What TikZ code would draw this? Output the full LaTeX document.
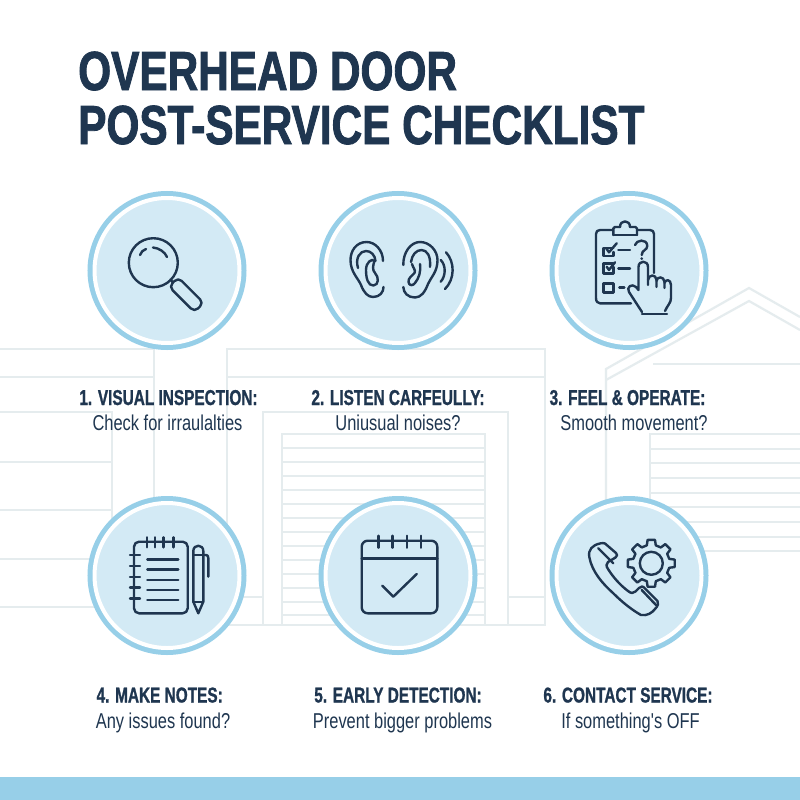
\documentclass[tikz,border=0pt]{standalone}
\usepackage{fontspec}
\setmainfont{Liberation Sans}
\newfontfamily\titlefont[FakeStretch=0.77,FakeBold=1.5]{Liberation Sans Bold}
\newfontfamily\headfont[FakeStretch=0.715,FakeBold=1]{Liberation Sans Bold}
\newfontfamily\subfont[FakeStretch=0.765]{Liberation Sans}
\usetikzlibrary{calc}
\definecolor{navy}{HTML}{1F3650}
\definecolor{ringblue}{HTML}{97CFE8}
\definecolor{innerblue}{HTML}{D3EAF5}
\definecolor{houseline}{HTML}{E5ECEE}
\tikzset{
    badge/.style={shape=circle, fill=innerblue, draw=white, line width=4pt, minimum size=145pt, inner sep=0pt, outer sep=0pt, preaction={draw=ringblue, line width=14pt}},
    iconline/.style={draw=navy, line width=2.4pt, line cap=round, line join=round},
    house/.style={draw=houseline, line width=2.2pt},
    titletxt/.style={anchor=base west, inner sep=0pt, text=navy, font=\titlefont\fontsize{55}{55}\selectfont},
    headtxt/.style={anchor=base, inner sep=0pt, text=navy, font=\headfont\fontsize{21.5}{21.5}\selectfont},
    subtxt/.style={anchor=base, inner sep=0pt, text=navy, font=\subfont\fontsize{21.5}{21.5}\selectfont}}

\begin{document}
\begin{tikzpicture}[x=1pt, y=-1pt]

    \useasboundingbox (0,0) rectangle (800,800);
    \fill[white] (0,0) rectangle (800,800);

    % left building
    \draw[house] (0,349) -- (154,349) -- (154,500);
    \draw[house] (0,377) -- (154,377);
    \draw[house] (0,412) -- (112,412) -- (112,530);
    \foreach \y in {462,510} {
        \draw[house] (0,\y) -- (112,\y);
    }
    \foreach \y in {559,607} {
        \draw[house] (0,\y) -- (120,\y);
    }

    % middle building
    \draw[house] (227,625) -- (227,349) -- (545,349) -- (545,625) -- cycle;
    \draw[house] (227,377) -- (545,377);
    \draw[house] (263,625) -- (263,412) -- (508,412) -- (508,625);
    \draw[house] (282,625) -- (282,434) -- (485,434) -- (485,625);
    \foreach \y in {448,462,476,490,504,518,532,546,560,574,588,602,615} {
        \draw[house] (282,\y) -- (485,\y);
    }
    \draw[house] (227,597) -- (263,597);
    \draw[house] (508,597) -- (545,597);

    % right building
    \draw[house] (606,530) -- (606,369) -- (749,288) -- (800,317);
    \draw[house] (606,380) -- (749,301) -- (800,330);
    \draw[house] (653,364) -- (800,364);
    \draw[house] (650,551) -- (650,434) -- (800,434);
    \foreach \y in {449,463,478,493,507,522,537,551} {
        \draw[house] (650,\y) -- (800,\y);
    }

    \fill[ringblue] (0,777) rectangle (800,800);

    \node[badge] (C1) at (167,270.5) {};
    \node[badge] (C2) at (398,270.5) {};
    \node[badge] (C3) at (629,270.5) {};
    \node[badge] (C4) at (167,575.5) {};
    \node[badge] (C5) at (398,575.5) {};
    \node[badge] (C6) at (629,575.5) {};

    % magnifier
    \draw[iconline] (153.3,262.7) circle (24.5);
    \draw[iconline] (140,255) .. controls (141,252) and (143,250) .. (146,249);
    \draw[iconline] (153,247.5) .. controls (159,248) and (165,252) .. (167,257);
    \draw[iconline] (170.5,279.5) -- (173,282.5);
    \draw[iconline, rounded corners=5pt, rotate around={-45:(186.3,294.7)}] (168.3,288.2) rectangle (204.3,301.2);

    % ears
    \draw[iconline] (383,261) .. controls (383,250) and (375,242) .. (366.7,242) .. controls (356,242) and (350.5,251) .. (350.5,260) .. controls (350.5,272) and (358,278) .. (361,285) .. controls (364,293) and (368,297) .. (373,297) .. controls (380,297) and (383.5,292) .. (383.5,287);
    \draw[iconline] (358,268) .. controls (355,258) and (360,251) .. (366,251) .. controls (371,251) and (375,255) .. (375.5,261);
    \draw[iconline] (374.5,261) .. controls (372,258) and (366,262) .. (366,270) .. controls (366,278) and (368,286) .. (373.5,285.5) .. controls (379,285) and (379,277) .. (375,273) .. controls (372,270) and (373,265) .. (374.5,261);
    \draw[iconline] (403.3,265) .. controls (403,252) and (411,242) .. (420,242) .. controls (430,242) and (437.5,251) .. (437.5,260) .. controls (437.5,272) and (431,277) .. (428,284) .. controls (425,292) and (421,297.5) .. (415,297.5) .. controls (408,297.5) and (403.5,293) .. (403.3,287);
    \draw[iconline] (411,262) .. controls (412,255) and (416,250) .. (421.5,250) .. controls (427,250) and (431,256) .. (430,267);
    \draw[iconline] (412,264) .. controls (413,268) and (416,270) .. (414.5,273) .. controls (412,276) and (408,278) .. (408.5,282) .. controls (409,286) and (413,286) .. (415,283) .. controls (419,278) and (421,272) .. (420,264);
    \draw[iconline] (440.7,260) .. controls (446,265) and (446,276) .. (440.7,281.7);
    \draw[iconline] (446,252.3) .. controls (455,262) and (455,279) .. (445,289);

    % clipboard and hand
    \draw[iconline] (654,273) -- (654,234) .. controls (654,231.5) and (652.5,230) .. (650,230) -- (637,230);
    \draw[iconline] (613,230) -- (600,230) .. controls (597.5,230) and (596,231.5) .. (596,234) -- (596,298) .. controls (596,301.5) and (597.5,303.3) .. (600,303.3) -- (631,303.3);
    \draw[iconline, rounded corners=1.5pt] (613.3,235) -- (613.3,227) -- (620,227);
    \draw[iconline] (620,227) .. controls (620,219.5) and (630,219.5) .. (630,227);
    \draw[iconline, rounded corners=1.5pt] (630,227) -- (637,227) -- (637,235);
    \draw[iconline] (613.3,235) -- (637,235);
    \draw[iconline] (613.3,248) -- (603.3,248) -- (603.3,256) -- (613.3,256) -- (613.3,252);
    \draw[iconline] (606,248) -- (609,252.3) -- (616.7,243.3);
    \draw[iconline] (618.3,250) -- (630,250);
    \draw[iconline] (635,245) .. controls (636,240) and (647,238) .. (647.3,246) .. controls (647.5,250) and (641.7,250) .. (641.7,255);
    \fill[navy] (641.7,258.7) circle (1.5);
    \draw[iconline] (613.3,263.5) -- (603.3,263.5) -- (603.3,273.3) -- (613.3,273.3) -- (613.3,267);
    \draw[iconline] (606.7,266.7) -- (609,270) -- (615,262.3);
    \draw[iconline] (618.3,268.3) -- (630,268.3);
    \draw[iconline] (603.3,283.3) rectangle (613.3,292.3);
    \draw[iconline] (619.3,287.3) -- (624.3,287.3);
    \draw[iconline] (642,312) -- (629,292) .. controls (626,287) and (632,283) .. (636,287) -- (638.5,290) -- (638.5,267) .. controls (638.5,260) and (648,260) .. (648,267) -- (648,285);
    \draw[iconline] (648,280) .. controls (649,274) and (656,274) .. (656.5,280) -- (656.5,287);
    \draw[iconline] (656.5,281) .. controls (657,276) and (664,276) .. (664.5,282) -- (664.5,288);
    \draw[iconline] (664.5,283) .. controls (665,279) and (671,279) .. (671,285) -- (671,298) .. controls (671,303) and (667,306) .. (665,311);
    \draw[iconline] (642,314) -- (667,314);

    % notebook and pen
    \draw[iconline, rounded corners=5pt] (134,541.7) rectangle (187.7,613.3);
    \foreach \x in {146.7,155,163.3,173.3} {
        \draw[iconline] (\x,537.3) -- (\x,547.3);
    }
    \foreach \y in {555,566,576.7,587.3,598.3} {
        \draw[iconline] (130,\y) -- (140,\y);
    }
    \foreach \y in {559.3,569.3,580,590,600} {
        \draw[iconline] (147.3,\y) -- (178.3,\y);
    }
    \draw[iconline] (193.3,601.7) -- (193.3,551) .. controls (193.3,544) and (203.3,544) .. (203.3,551) -- (203.3,601.7) -- (198.3,613.3) -- cycle;
    \draw[iconline] (193.3,555) -- (203.3,555);
    \draw[iconline] (193.3,601.7) -- (203.3,601.7);
    \draw[iconline] (203.3,555) -- (206,555) .. controls (207.5,555) and (208.3,556) .. (208.3,558) -- (208.3,576.7);

    % calendar
    \draw[iconline, rounded corners=6pt] (361.7,540.7) rectangle (437.3,613.3);
    \draw[iconline] (361.7,558.3) -- (437.3,558.3);
    \foreach \x in {378.3,392.3,406.7,420.7} {
        \draw[iconline] (\x,535.7) -- (\x,547.7);
    }
    \draw[iconline] (382.3,585.7) -- (393.3,596.7) -- (416.7,574);

    % phone and gear
    \draw[iconline] (600.7,543.3) .. controls (592,545) and (588,550) .. (589.3,557) .. controls (592,572) and (603,584) .. (613.3,593.3) .. controls (622,602) and (632,610) .. (641,615) .. controls (647,616) and (652,613) .. (655,609) .. controls (658,606) and (659,603) .. (657.5,601) -- (645,588.5) .. controls (643,586) and (641,586) .. (639,588) -- (635.5,591.5) .. controls (633.5,593.5) and (631,593.5) .. (628,591) .. controls (620,585) and (613,577) .. (608,569) .. controls (606,566) and (606,564) .. (608,562) -- (615.5,557.5) .. controls (617.5,556) and (617.5,554.5) .. (616,553) -- (605,543.5) .. controls (604,543) and (602,543) .. (600.7,543.3) -- cycle;
    \draw[iconline] (598.3,548.3) -- (613.3,563.3);
    \draw[iconline] (641.7,590) -- (656,605);
    \coordinate (G) at (651.3,563.3);
    \draw[iconline] (G) circle (11.5);
    \draw[iconline] ($(G)+(-14:18.5)$) \foreach \a in {0,45,...,315} {
        -- ($(G)+(\a-14:18.5)$) -- ($(G)+(\a-9:23.7)$) -- ($(G)+(\a+9:23.7)$) -- ($(G)+(\a+14:18.5)$)
    } -- cycle;

    \node[titletxt] (T1) at (78,90) {OVERHEAD DOOR};
    \node[titletxt] (T2) at (78,144) {POST-SERVICE CHECKLIST};

    \node[headtxt] (H1) at (168.5,405) {1. VISUAL INSPECTION:};
    \node[subtxt] (S1) at (167.5,430.5) {Check for irraulalties};
    \node[headtxt] (H2) at (398,405) {2. LISTEN CARFEULLY:};
    \node[subtxt] (S2) at (398,430.5) {Uniusual noises?};
    \node[headtxt] (H3) at (627.5,405) {3. FEEL \& OPERATE:};
    \node[subtxt] (S3) at (634,430.5) {Smooth movement?};
    \node[headtxt] (H4) at (159.7,702.5) {4. MAKE NOTES:};
    \node[subtxt] (S4) at (163,728) {Any issues found?};
    \node[headtxt] (H5) at (398,702.5) {5. EARLY DETECTION:};
    \node[subtxt] (S5) at (402.5,728) {Prevent bigger problems};
    \node[headtxt] (H6) at (628,702.5) {6. CONTACT SERVICE:};
    \node[subtxt] (S6) at (630.5,728) {If something's OFF};

\end{tikzpicture}
\end{document}
